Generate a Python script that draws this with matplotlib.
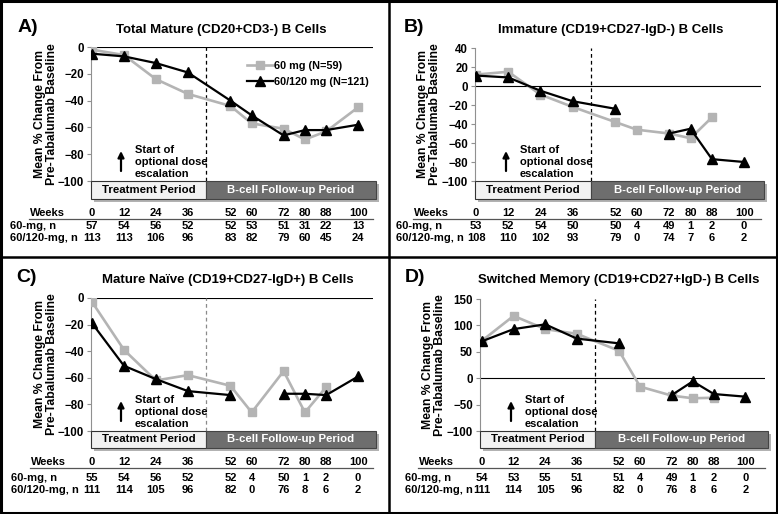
import numpy as np
import matplotlib
matplotlib.use("Agg")
import matplotlib.pyplot as plt
from matplotlib.patches import Rectangle, FancyArrowPatch
from matplotlib.lines import Line2D
from matplotlib.transforms import blended_transform_factory

plt.rcParams['font.family'] = ['Liberation Sans', 'DejaVu Sans']
plt.rcParams['font.weight'] = 'bold'

nan = np.nan
weeks = [0, 12, 24, 36, 52, 60, 72, 80, 88, 100]
split_week = 43  # end of treatment period

# A) total mature B cells
a_60 = [-2, -6, -24, -35, -44, -57, -61, -69, -63, -45]
a_120 = [-5, -7, -12, -19, -40, -51, -66, -62, -62, -58]
a_n60 = [57, 54, 56, 52, 52, 53, 51, 31, 22, 13]
a_n120 = [113, 113, 106, 96, 83, 82, 79, 60, 45, 24]

# B) immature B cells
b_60 = [12, 15, -9, -22, -38, -46, -50, -55, -33, nan]
b_120 = [11, 9, -5, -16, -24, nan, -50, -45, -77, -80]
b_n60 = [53, 52, 54, 50, 50, 4, 49, 1, 2, 0]
b_n120 = [108, 110, 102, 93, 79, 0, 74, 7, 6, 2]

# C) mature naive B cells
c_60 = [-3, -39, -62, -58, -66, -86, -55, -86, -67, nan]
c_120 = [-19, -51, -61, -70, -73, nan, -72, -72, -73, -59]
c_n60 = [55, 54, 56, 52, 52, 4, 50, 1, 2, 0]
c_n120 = [111, 114, 105, 96, 82, 0, 76, 8, 6, 2]

# D) switched memory B cells
d_60 = [71, 118, 93, 84, 52, -16, -33, -38, -37, nan]
d_120 = [70, 93, 102, 75, 66, nan, -32, -6, -30, -35]
d_n60 = [54, 53, 55, 51, 51, 4, 49, 1, 2, 0]
d_n120 = [111, 114, 105, 96, 82, 0, 76, 8, 6, 2]

W, H = 778, 514
fig = plt.figure(figsize=(W / 100, H / 100), dpi=100)


def fx(px):
    return px / W


def fy(py):
    return 1 - py / H


GRAY = '#b4b4b4'
TS = 8  # table font size


def panel(rect, xlim, ylim, yticks, letter, letter_xy, title, title_xy, ylab_x,
          rows, lab_x, weeks_x, ann_x, gray, black, n60, n120, dash_color='black',
          legend=False):
    l, r, t, b = rect
    ax = fig.add_axes([fx(l), fy(b), fx(r - l), (b - t) / H])
    ax.set_xlim(xlim)
    ax.set_ylim(ylim)
    ax.plot(weeks, gray, color=GRAY, lw=1.9, marker='s', ms=6, mec=GRAY, mfc=GRAY,
            label='60 mg (N=59)', zorder=3)
    ax.plot(weeks, black, color='black', lw=1.6, marker='^', ms=7,
            label='60/120 mg (N=121)', zorder=4)
    ax.axhline(0, color='black', lw=0.8, zorder=1)
    ax.axvline(split_week, color=dash_color, lw=0.9, ls=(0, (3, 2.5)), zorder=2)
    for s in ['top', 'right', 'bottom']:
        ax.spines[s].set_visible(False)
    ax.spines['left'].set_color('#909090')
    ax.spines['left'].set_linewidth(0.8)
    ax.set_xticks([])
    ax.set_yticks(yticks)
    ax.tick_params(axis='y', length=3, color='#909090', labelsize=8.3, pad=2)
    if legend:
        ax.legend(loc='upper left', bbox_to_anchor=(0.52, 0.97), frameon=False,
                  fontsize=7.8, handlelength=2.4, handletextpad=0.1, labelspacing=0.55)

    fig.text(fx(letter_xy[0]), fy(letter_xy[1]), letter, fontsize=14, ha='left', va='center')
    fig.text(fx(title_xy[0]), fy(title_xy[1]), title, fontsize=9.5, ha='center', va='center')
    fig.text(fx(ylab_x), fy((t + b) / 2), 'Mean % Change From\nPre-Tabalumab Baseline',
             rotation=90, fontsize=8.8, ha='center', va='center', multialignment='center',
             linespacing=1.1)

    tr = blended_transform_factory(ax.transData, fig.transFigure)
    box_b, wk_y, line_y, r1_y, r2_y = rows
    # period boxes with a soft shadow
    x_end = xlim[1] + 1
    sh = 3 * (xlim[1] - xlim[0]) / (r - l)
    fig.patches.append(Rectangle((xlim[0] + sh, fy(box_b + 3)), x_end - xlim[0], (box_b - b) / H,
                                 transform=tr, fc='#555555', ec='none', alpha=0.45, zorder=1))
    fig.patches.append(Rectangle((xlim[0], fy(box_b)), split_week - xlim[0], (box_b - b) / H,
                                 transform=tr, fc='#f2f2f2', ec='#333333', lw=0.8, zorder=2))
    fig.patches.append(Rectangle((split_week, fy(box_b)), x_end - split_week, (box_b - b) / H,
                                 transform=tr, fc='#6e6e6e', ec='#444444', lw=0.8, zorder=2))
    mid = fy((box_b + b) / 2)
    fig.text((xlim[0] + split_week) / 2, mid, 'Treatment Period', transform=tr,
             fontsize=8.2, ha='center', va='center', zorder=3)
    fig.text((split_week + x_end) / 2, mid, 'B-cell Follow-up Period', transform=tr,
             fontsize=8.2, ha='center', va='center', color='white', zorder=3)

    # annotation
    fig.text(fx(ann_x + 14), fy(b - 19), 'Start of\noptional dose\nescalation',
             fontsize=8, ha='left', va='center', linespacing=1.22)
    fig.patches.append(FancyArrowPatch(
        (fx(ann_x), fy(b - 10)), (fx(ann_x), fy(b - 30)), transform=fig.transFigure,
        arrowstyle='-|>', mutation_scale=9, lw=1.6, color='black', shrinkA=0, shrinkB=0))

    # number-at-risk table
    fig.text(fx(weeks_x), fy(wk_y), 'Weeks', fontsize=TS, ha='center', va='center')
    fig.text(fx(lab_x), fy(r1_y), '60-mg, n', fontsize=TS, ha='left', va='center')
    fig.text(fx(lab_x), fy(r2_y), '60/120-mg, n', fontsize=TS, ha='left', va='center')
    for w, n1, n2 in zip(weeks, n60, n120):
        fig.text(w, fy(wk_y), str(w), transform=tr, fontsize=TS, ha='center', va='center')
        fig.text(w, fy(r1_y), str(n1), transform=tr, fontsize=TS, ha='center', va='center')
        fig.text(w, fy(r2_y), str(n2), transform=tr, fontsize=TS, ha='center', va='center')
    fig.lines.append(Line2D([fx(weeks_x - 18), fx(r)], [fy(line_y), fy(line_y)],
                            transform=fig.transFigure, color='#555555', lw=0.9))
    return ax


top_rows = (199, 213, 218.5, 226, 238)
bot_rows = (448, 462, 467.5, 478, 490)

panel((91, 373, 47, 181), (-0.4, 105.6), (-100, 0), range(-100, 1, 20),
      'A)', (18, 27), 'Total Mature (CD20+CD3-) B Cells', (221, 30), 46,
      top_rows, 10, 47, 121, a_60, a_120, a_n60, a_n120, legend=True)
panel((475, 761, 48, 181), (-0.4, 106.3), (-100, 40), range(-100, 41, 20),
      'B)', (404, 27), 'Immature (CD19+CD27-IgD-) B Cells', (611, 30), 429,
      top_rows, 396, 431, 506, b_60, b_120, b_n60, b_n120)
panel((91, 373, 298, 431), (-0.4, 105.6), (-100, 0), range(-100, 1, 20),
      'C)', (16, 277), 'Mature Na\u00efve (CD19+CD27-IgD+) B Cells', (228, 280), 46,
      bot_rows, 11, 48, 121, c_60, c_120, c_n60, c_n120, dash_color='#8a8a8a')
panel((480, 765, 299, 431), (-0.75, 107.4), (-100, 150), range(-100, 151, 50),
      'D)', (405, 277), 'Switched Memory (CD19+CD27+IgD-) B Cells', (619, 280), 434,
      bot_rows, 405, 436, 511, d_60, d_120, d_n60, d_n120)

# panel frame
fig.lines.append(Line2D([fx(1), fx(777), fx(777), fx(1), fx(1)],
                        [fy(1), fy(1), fy(513), fy(513), fy(1)],
                        transform=fig.transFigure, color='black', lw=2.2))
fig.lines.append(Line2D([fx(389), fx(389)], [0, 1], transform=fig.transFigure, color='black', lw=1.8))
fig.lines.append(Line2D([0, 1], [fy(257), fy(257)], transform=fig.transFigure, color='black', lw=1.8))

fig.savefig('out.png', dpi=100, facecolor='white')
